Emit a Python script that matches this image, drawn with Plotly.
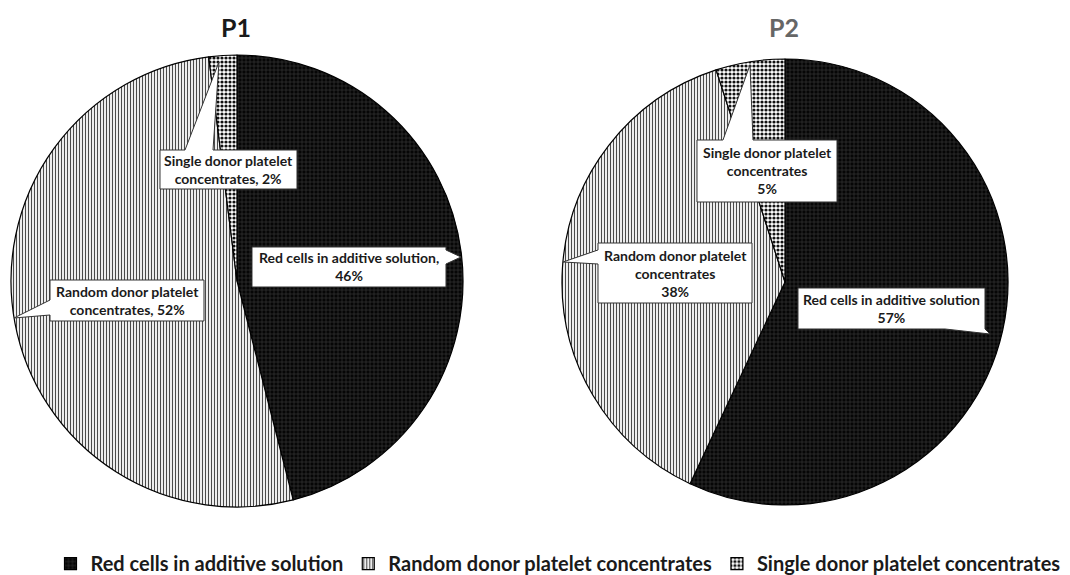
import plotly.graph_objects as go

# Blood component usage, share of units (%)
categories = ["Red cells in additive solution",
              "Random donor platelet concentrates",
              "Single donor platelet concentrates"]
p1_values = [46, 52, 2]
p2_values = [57, 38, 5]
panel_titles = ["P1", "P2"]

W, H = 1070, 575


def X(px):
    return px / W


def Y(py):
    return 1 - py / H


patterns = dict(
    shape=["+", "|", "."],
    bgcolor=["#060606", "#ffffff", "#ffffff"],
    fgcolor=["#383838", "#4a4a4a", "#111111"],
    size=[4, 3, 4],
    solidity=[0.3, 0.4, 0.5],
)

fig = go.Figure()
domains = [
    dict(x=[X(11), X(463)], y=[Y(507), Y(55)]),
    dict(x=[X(562), X(1008)], y=[Y(505), Y(59)]),
]
for vals, dom in zip([p1_values, p2_values], domains):
    fig.add_trace(go.Pie(
        labels=categories, values=vals, sort=False, direction="clockwise",
        rotation=0, textinfo="none", domain=dom,
        marker=dict(colors=patterns["bgcolor"],
                    line=dict(color="#000000", width=1.2),
                    pattern=patterns),
        hovertemplate="%{label}: %{value}%<extra></extra>",
    ))


def callout_path(box, side, base, tip):
    x0, y0, x1, y1 = box
    a, b = base
    pts = [(x0, y0)]
    if side == "top":
        pts += [(a, y0), tip, (b, y0)]
    pts.append((x1, y0))
    if side == "right":
        pts += [(x1, a), tip, (x1, b)]
    pts.append((x1, y1))
    if side == "bottom":
        pts += [(b, y1), tip, (a, y1)]
    pts.append((x0, y1))
    if side == "left":
        pts += [(x0, b), tip, (x0, a)]
    return "M " + " L ".join(f"{X(px):.5f},{Y(py):.5f}" for px, py in pts) + " Z"


# label boxes: (box px, side with tail, tail base, tail tip, text)
callouts = [
    ((160, 150, 297, 189), "top", (185, 213), (219, 62),
     f"Single donor platelet<br>concentrates, {p1_values[2]}%"),
    ((252, 247, 446, 287), "right", (250, 264), (461, 257),
     f"Red cells in additive solution,<br>{p1_values[0]}%"),
    ((50, 280, 204, 321), "left", (300, 315), (14, 318),
     f"Random donor platelet<br>concentrates, {p1_values[1]}%"),
    ((697, 140, 837, 202), "top", (723, 753), (750, 65),
     f"Single donor platelet<br>concentrates<br>{p2_values[2]}%"),
    ((598, 243, 752, 303), "left", (250, 264), (563, 262),
     f"Random donor platelet<br>concentrates<br>{p2_values[1]}%"),
    ((798, 288, 985, 329), "bottom", (945, 985), (990, 334),
     f"Red cells in additive solution<br>{p2_values[0]}%"),
]

shapes = []
annotations = []
for box, side, base, tip, text in callouts:
    shapes.append(dict(type="path", xref="paper", yref="paper",
                       path=callout_path(box, side, base, tip),
                       fillcolor="#ffffff", line=dict(color="#333333", width=1),
                       layer="above"))
    annotations.append(dict(
        x=X((box[0] + box[2]) / 2), y=Y((box[1] + box[3]) / 2),
        xref="paper", yref="paper", showarrow=False, text=text,
        align="center", xanchor="center", yanchor="middle",
        font=dict(family="Lato", size=14, color="#1a1a1a", weight="bold"),
    ))

for title, cx, color in zip(panel_titles, [236, 784], ["#1a1a1a", "#666666"]):
    annotations.append(dict(
        x=X(cx), y=Y(27), xref="paper", yref="paper", showarrow=False,
        text=title, xanchor="center", yanchor="middle",
        font=dict(family="Lato", size=25, color=color, weight="bold"),
    ))

fig.update_layout(
    width=W, height=H, margin=dict(l=0, r=0, t=0, b=0, autoexpand=False),
    paper_bgcolor="white", plot_bgcolor="white",
    shapes=shapes, annotations=annotations,
    legend=dict(orientation="h", x=X(558), xanchor="center", y=-0.014,
                yanchor="bottom", traceorder="normal",
                font=dict(family="Lato", size=20, color="#1a1a1a", weight="bold"),
                itemwidth=30, tracegroupgap=0),
)

fig.write_html("out.html")
